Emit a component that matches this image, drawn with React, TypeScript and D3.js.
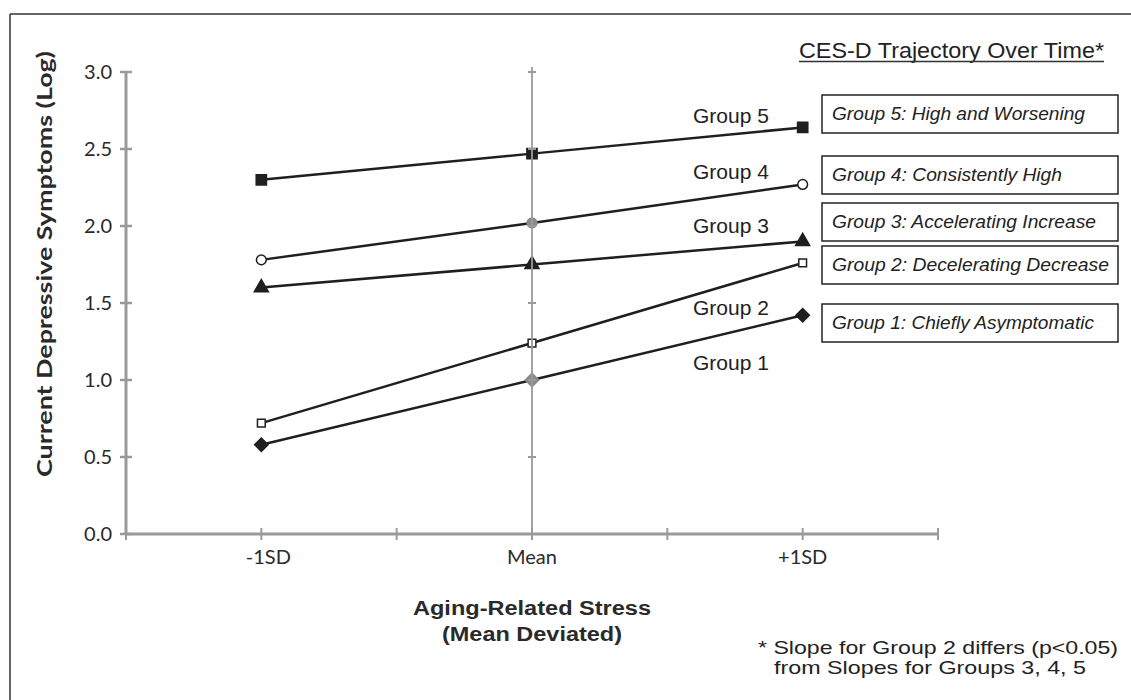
import React, { useEffect, useRef } from "react";
import * as d3 from "d3";

// stress levels (mean deviated, in SD units) and their labels
const stressLevels = [-1, 0, 1];
const stressLabels = ["-1SD", "Mean", "+1SD"];
const xTickValues = [-1.5, -1, -0.5, 0, 0.5, 1, 1.5];
const yTickValues = [0, 0.5, 1, 1.5, 2, 2.5, 3];

// current depressive symptoms (log) per trajectory group
const group1 = [0.58, 1.0, 1.42];
const group2 = [0.72, 1.24, 1.76];
const group3 = [1.6, 1.75, 1.9];
const group4 = [1.78, 2.02, 2.27];
const group5 = [2.3, 2.47, 2.64];

const groupNames = ["Group 1", "Group 2", "Group 3", "Group 4", "Group 5"];
const legendLabels = [
  "Group 1: Chiefly Asymptomatic",
  "Group 2: Decelerating Decrease",
  "Group 3: Accelerating Increase",
  "Group 4: Consistently High",
  "Group 5: High and Worsening",
];

const App = () => {
  const ref = useRef<SVGSVGElement>(null);

  useEffect(() => {
    const svg = d3.select(ref.current);
    svg.selectAll("*").remove();

    const x = d3.scaleLinear().domain([-1.5, 1.5]).range([126, 938]);
    const y = d3.scaleLinear().domain([0, 3]).range([534, 72]);

    const ink = "#1f1f1f";
    const axisGray = "#9a9a9a";

    // page frame
    svg.append("line").attr("x1", 10).attr("x2", 1131).attr("y1", 14).attr("y2", 14)
      .style("stroke", "#333").style("stroke-width", 1.5);
    svg.append("line").attr("x1", 10).attr("x2", 10).attr("y1", 14).attr("y2", 700)
      .style("stroke", "#333").style("stroke-width", 1.5);

    // y axis
    const yAxis = svg.append("g");
    yAxis.append("line")
      .attr("x1", x(-1.5)).attr("x2", x(-1.5))
      .attr("y1", y(3)).attr("y2", y(0))
      .style("stroke", axisGray).style("stroke-width", 3);
    yTickValues.forEach((v) => {
      yAxis.append("line")
        .attr("x1", x(-1.5) - 6).attr("x2", x(-1.5) + 6)
        .attr("y1", y(v)).attr("y2", y(v))
        .style("stroke", axisGray).style("stroke-width", 2.5);
      yAxis.append("text")
        .attr("x", x(-1.5) - 14).attr("y", y(v) + 7)
        .style("font-family", "Lato, sans-serif")
        .style("font-size", "20px")
        .style("fill", "#2a2a2a")
        .style("text-anchor", "end")
        .text(d3.format(".1f")(v));
    });

    // x axis
    const xAxis = svg.append("g");
    xAxis.append("line")
      .attr("x1", x(-1.5)).attr("x2", x(1.5))
      .attr("y1", y(0)).attr("y2", y(0))
      .style("stroke", axisGray).style("stroke-width", 3);
    xTickValues.forEach((v) => {
      xAxis.append("line")
        .attr("x1", x(v)).attr("x2", x(v))
        .attr("y1", y(0) - 6).attr("y2", y(0) + 6)
        .style("stroke", axisGray).style("stroke-width", 2);
    });
    stressLevels.forEach((v, i) => {
      xAxis.append("text")
        .attr("x", x(v) + (i === 0 ? 7 : 0)).attr("y", y(0) + 30)
        .style("font-family", "Lato, sans-serif")
        .style("font-size", "20px")
        .style("fill", "#2a2a2a")
        .style("text-anchor", "middle")
        .text(stressLabels[i]);
    });

    // axis titles
    svg.append("text")
      .attr("transform", `translate(52,264) rotate(-90)`)
      .attr("textLength", 426)
      .attr("lengthAdjust", "spacingAndGlyphs")
      .style("font-family", "Lato, sans-serif")
      .style("font-weight", "bold")
      .style("font-size", "21px")
      .style("fill", "#2a2a2a")
      .style("text-anchor", "middle")
      .text("Current Depressive Symptoms (Log)");

    svg.append("text")
      .attr("x", x(0)).attr("y", 615)
      .attr("textLength", 238)
      .attr("lengthAdjust", "spacingAndGlyphs")
      .style("font-family", "'Liberation Sans', Arial, sans-serif")
      .style("font-weight", "bold")
      .style("font-size", "20px")
      .style("fill", "#2a2a2a")
      .style("text-anchor", "middle")
      .text("Aging-Related Stress");
    svg.append("text")
      .attr("x", x(0)).attr("y", 641)
      .attr("textLength", 180)
      .attr("lengthAdjust", "spacingAndGlyphs")
      .style("font-family", "'Liberation Sans', Arial, sans-serif")
      .style("font-weight", "bold")
      .style("font-size", "20px")
      .style("fill", "#2a2a2a")
      .style("text-anchor", "middle")
      .text("(Mean Deviated)");

    const series = [group1, group2, group3, group4, group5];
    const symbols = [
      { type: d3.symbolSquare, size: 90, fill: ink, rotate: 45 },
      { type: d3.symbolSquare, size: 60, fill: "white", rotate: 0 },
      { type: d3.symbolTriangle, size: 85, fill: ink, rotate: 0 },
      { type: d3.symbolCircle, size: 75, fill: "white", rotate: 0 },
      { type: d3.symbolSquare, size: 105, fill: ink, rotate: 0 },
    ];

    const line = d3.line<number>()
      .x((d, i) => x(stressLevels[i]))
      .y((d) => y(d));

    const marks = svg.append("g");
    series.forEach((vals, g) => {
      marks.append("path")
        .attr("d", line(vals))
        .style("fill", "none")
        .style("stroke", ink)
        .style("stroke-width", 2.5);
      vals.forEach((v, i) => {
        const s = symbols[g];
        const midGray = i === 1 && (g === 0 || g === 3);
        marks.append("path")
          .attr("d", d3.symbol().type(s.type).size(s.size)())
          .attr("transform", `translate(${x(stressLevels[i])},${y(v)}) rotate(${s.rotate})`)
          .style("fill", midGray ? "#8a8a8a" : s.fill)
          .style("stroke", midGray ? "#8a8a8a" : ink)
          .style("stroke-width", 1.5);
      });
    });

    // mean reference line with its small ticks
    const meanLine = svg.append("g");
    meanLine.append("line")
      .attr("x1", x(0)).attr("x2", x(0))
      .attr("y1", y(3) - 5).attr("y2", y(0))
      .style("stroke", axisGray).style("stroke-width", 2)
      .style("opacity", 0.9);
    yTickValues.slice(1).forEach((v) => {
      meanLine.append("line")
        .attr("x1", x(0) - 4).attr("x2", x(0) + 4)
        .attr("y1", y(v)).attr("y2", y(v))
        .style("stroke", axisGray).style("stroke-width", 2);
    });

    // group labels next to the line ends
    const labelBaselines = [370, 315, 233, 179, 123];
    groupNames.forEach((name, g) => {
      svg.append("text")
        .attr("x", 693).attr("y", labelBaselines[g])
        .style("font-family", "'Liberation Sans', Arial, sans-serif")
        .style("font-size", "21px")
        .style("fill", "#222")
        .text(name);
    });

    // title
    svg.append("text")
      .attr("x", 1104).attr("y", 58)
      .style("font-family", "'Liberation Sans', Arial, sans-serif")
      .style("font-size", "22px")
      .style("fill", "#222")
      .style("text-anchor", "end")
      .attr("textLength", 305)
      .attr("lengthAdjust", "spacingAndGlyphs")
      .text("CES-D Trajectory Over Time*");
    svg.append("line")
      .attr("x1", 799).attr("x2", 1104).attr("y1", 61.5).attr("y2", 61.5)
      .style("stroke", "#333").style("stroke-width", 1.5);

    // legend boxes
    const boxTops = [304, 246, 203, 156, 95];
    const legendWidths = [262, 277, 264, 230, 253];
    legendLabels.forEach((label, g) => {
      svg.append("rect")
        .attr("x", 822).attr("y", boxTops[g])
        .attr("width", 296).attr("height", 38)
        .style("fill", "white")
        .style("stroke", "#222")
        .style("stroke-width", 1.5);
      svg.append("text")
        .attr("x", 832).attr("y", boxTops[g] + 25)
        .attr("textLength", legendWidths[g])
        .attr("lengthAdjust", "spacingAndGlyphs")
        .style("font-family", "'Liberation Sans', Arial, sans-serif")
        .style("font-style", "italic")
        .style("font-size", "18px")
        .style("fill", "#222")
        .text(label);
    });

    // footnote
    svg.append("text")
      .attr("x", 758).attr("y", 654)
      .attr("textLength", 360)
      .attr("lengthAdjust", "spacingAndGlyphs")
      .style("font-family", "'Liberation Sans', Arial, sans-serif")
      .style("font-size", "19px")
      .style("fill", "#222")
      .text("* Slope for Group 2 differs (p<0.05)");
    svg.append("text")
      .attr("x", 774).attr("y", 674)
      .attr("textLength", 312)
      .attr("lengthAdjust", "spacingAndGlyphs")
      .style("font-family", "'Liberation Sans', Arial, sans-serif")
      .style("font-size", "19px")
      .style("fill", "#222")
      .text("from Slopes for Groups 3, 4, 5");
  }, []);

  return (
    <div style={{ position: "absolute", left: 0, top: 0, width: 1131, height: 700 }}>
      <svg ref={ref} width={1131} height={700} style={{ display: "block", background: "white" }} />
    </div>
  );
};

export default App;
